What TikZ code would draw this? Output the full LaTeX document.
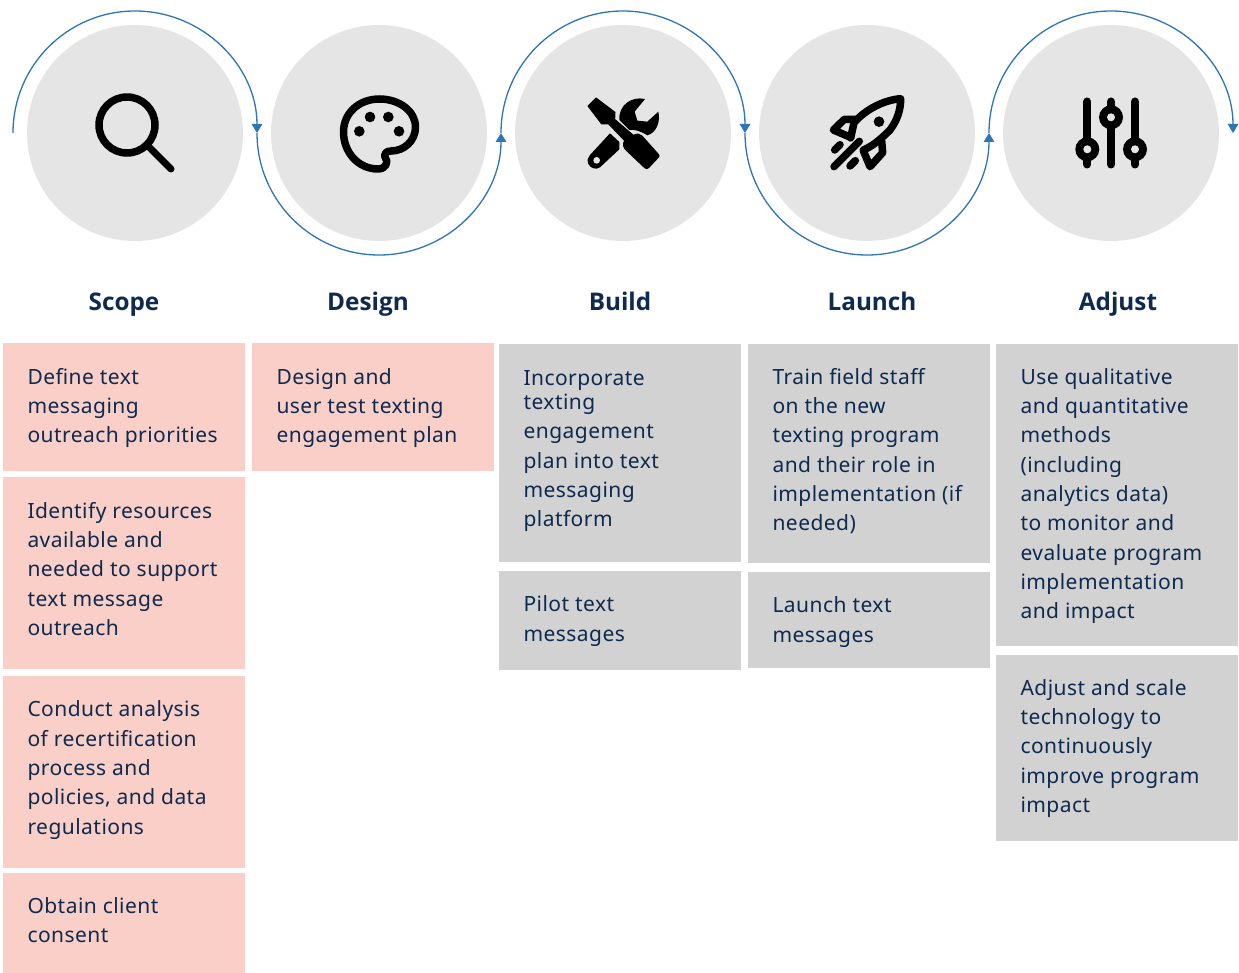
\documentclass[tikz,border=0pt]{standalone}
\usepackage{fontspec}
\setmainfont{Noto Sans}
\newfontfamily\bodyfont[LetterSpace=2.2]{Noto Sans}
\newfontfamily\headfont{Open Sans}
\usetikzlibrary{arrows.meta,calc}
\definecolor{navy}{HTML}{0E2A4F}
\definecolor{pinkbox}{HTML}{F9CFC7}
\definecolor{graybox}{HTML}{D2D2D2}
\definecolor{disc}{HTML}{E5E5E5}
\definecolor{flow}{HTML}{2E75B6}
\tikzset{
  x=1pt,y=-1pt,
  disc/.style={circle,fill=disc,minimum size=216pt,inner sep=0pt},
  flowline/.style={draw=flow,line width=1.3pt},
  tip/.style={-{Triangle[length=9pt,width=10.5pt,fill=flow]}},
  head/.style={font=\headfont\bfseries\fontsize{24.3}{28}\selectfont,text=navy,anchor=base,inner sep=0pt},
  card/.style={anchor=north west,minimum width=242pt,inner sep=0pt,outer sep=0pt},
  pinkcard/.style={card,fill=pinkbox},
  graycard/.style={card,fill=graybox},
  copy/.style={anchor=west,inner sep=0pt,align=left,text=navy,font=\bodyfont\fontsize{21}{29.3}\selectfont},
  ink/.style={draw=black,line width=7.5pt,line cap=round,line join=round},
  solid ink/.style={fill=black,draw=black,line width=1pt,line join=round},
}
% name, x, top, bottom, style, text-centre y, text
\newcommand{\cardbox}[7]{%
  \pgfmathsetmacro{\cardh}{#4-#3}
  \node[#5,minimum height=\cardh pt] (#1) at (#2,#3) {};
  \node[copy] (#1t) at ($(#2,#6)+(24.3,0)$) {#7};
}
\begin{document}
\begin{tikzpicture}
\useasboundingbox (0,0) rectangle (1239,973);
\fill[white] (0,0) rectangle (1239,973);
% discs
\node[disc] (d1) at (135,133) {};
\node[disc] (d2) at (379,133) {};
\node[disc] (d3) at (623,133) {};
\node[disc] (d4) at (867,133) {};
\node[disc] (d5) at (1111,133) {};
% flow arcs
\coordinate (p0) at (13,133);
\coordinate (p1) at (257,133);
\coordinate (p2) at (501,133);
\coordinate (p3) at (745,133);
\coordinate (p4) at (989,133);
\coordinate (p5) at (1233,133);
\draw[flowline,tip] (p0) arc[start angle=180,end angle=0,radius=122pt];
\draw[flowline,tip] (p1) arc[start angle=180,end angle=360,radius=122pt];
\draw[flowline,tip] (p2) arc[start angle=180,end angle=0,radius=122pt];
\draw[flowline,tip] (p3) arc[start angle=180,end angle=360,radius=122pt];
\draw[flowline,tip] (p4) arc[start angle=180,end angle=0,radius=122pt];
% magnifier
\draw[ink] (127,125) circle[radius=28pt];
\draw[ink,line width=7pt] (148,146) -- (171,169);
% palette
\draw[ink] (379.5,99) .. controls (399,99) and (415.5,111) .. (415.5,127)
  .. controls (415.5,141) and (404,151) .. (391,151)
  .. controls (386,151) and (384,154) .. (385,157)
  .. controls (389,162) and (386,169) .. (378,169)
  .. controls (358,169) and (343.5,152) .. (343.5,132)
  .. controls (343.5,113) and (359,99) .. (379.5,99) -- cycle;
\foreach \px/\py in {370/117,388.3/117,359.3/131.3,399/131.3}
  \fill (\px,\py) circle[radius=5.3pt];
% tools
\begin{scope}[shift={(560,70)},x=0.3333pt,y=-0.3333pt]
  \fill[solid ink] (84,108) -- (108,84) -- (165,127) -- (164,148) -- (220,196)
     .. controls (232,190) and (240,192) .. (246,198) -- (295,253) .. controls (298,257) and (298,259) .. (295,262)
     -- (266,293) .. controls (262,297) and (258,297) .. (254,293) -- (198,240) .. controls (190,232) and (188,222) .. (194,212)
     -- (146,162) -- (125,162) -- cycle;
  \fill[black] (150,190) -- (178,216) -- (178,238) -- (120,292)
     .. controls (108,300) and (92,296) .. (85,282) .. controls (80,270) and (84,262) .. (90,255) -- cycle;
  \fill[disc] (110,271) circle[radius=10];
  \fill[black] (255,87) .. controls (215,78) and (175,105) .. (178,150)
     -- (208,180) .. controls (225,178) and (240,183) .. (262,196)
     .. controls (290,188) and (302,155) .. (295,125)
     -- (262,155) -- (232,152) -- (224,125) -- cycle;
\end{scope}
% rocket
\begin{scope}[shift={(810,80)},x=0.3333pt,y=-0.3333pt]
  \draw[ink] (122,174) -- (132,128) .. controls (170,85) and (225,60) .. (272,56)
     .. controls (272,90) and (262,120) .. (240,150) .. controls (210,180) and (185,200) .. (160,210);
  \draw[ink] (135,118) -- (103,118) -- (70,150) -- (122,172);
  \draw[ink] (215,182) -- (218,218) -- (180,260) -- (160,212);
  \fill (207,125) circle[radius=16];
  \draw[ink] (72,260) -- (148,184);
  \draw[ink] (74,210) -- (90,194);
  \draw[ink] (120,258) -- (136,242);
\end{scope}
% sliders
\foreach \bx in {1087.3,1111,1135}
  \draw[ink,line width=8pt] (\bx,101.5) -- (\bx,164.5);
\foreach \bx/\by in {1087.3/149.3,1111/117.3,1135/149.3}{
  \fill (\bx,\by) circle[radius=12pt];
  \fill[disc] (\bx,\by) circle[radius=4pt];
}
% headings
\node[head] (h1) at (124,311) {Scope};
\node[head] (h2) at (368,311) {Design};
\node[head] (h3) at (620,311) {Build};
\node[head] (h4) at (872,311) {Launch};
\node[head] (h5) at (1118,311) {Adjust};
% cards
\cardbox{a1}{3}{343}{471}{pinkcard}{408}{Define text\\messaging\\outreach priorities}
\cardbox{a2}{3}{477}{669}{pinkcard}{569}{Identify resources\\available and\\needed to support\\text message\\outreach}
\cardbox{a3}{3}{676}{868}{pinkcard}{770}{Conduct analysis\\of recertification\\process and\\policies, and data\\regulations}
\cardbox{a4}{3}{873}{973}{pinkcard}{920}{Obtain client\\consent}
\cardbox{b1}{252}{343}{471}{pinkcard}{408}{Design and\\user test texting\\engagement plan}
\cardbox{c1}{499}{344}{562}{graycard}{451}{Incorporate\\[-5pt]texting\\engagement\\plan into text\\messaging\\platform}
\cardbox{c2}{499}{571}{670}{graycard}{621}{Pilot text\\messages}
\cardbox{e1}{748}{344}{563}{graycard}{451}{Train field staff\\on the new\\texting program\\and their role in\\implementation (if\\needed)}
\cardbox{e2}{748}{572}{668}{graycard}{622}{Launch text\\messages}
\cardbox{f1}{996}{344}{646}{graycard}{496}{Use qualitative\\and quantitative\\methods\\(including\\analytics data)\\to monitor and\\evaluate program\\implementation\\and impact}
\cardbox{f2}{996}{655}{841}{graycard}{748.5}{Adjust and scale\\technology to\\continuously\\improve program\\impact}
\end{tikzpicture}
\end{document}
